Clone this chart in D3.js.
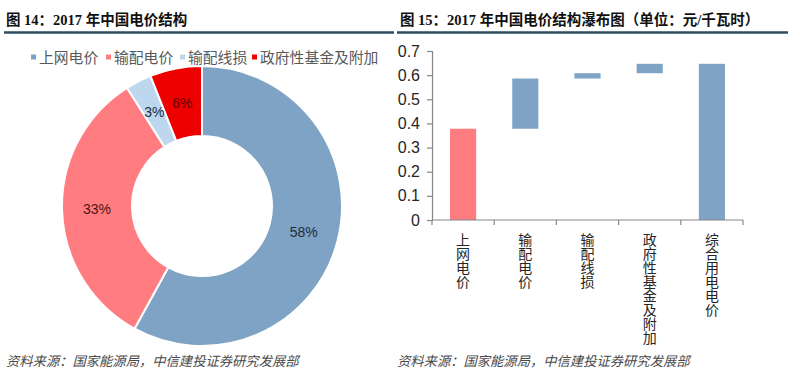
<!DOCTYPE html>
<html><head><meta charset="utf-8">
<script src="https://cdn.jsdelivr.net/npm/d3@7"></script>
<style>body{margin:0;background:#fff}svg{display:block}</style>
</head><body>
<script>
// ---- data ----
const pieCategories = ["上网电价", "输配电价", "输配线损", "政府性基金及附加"];
const pieValues = [58, 33, 3, 6];
const pieLabels = ["58%", "33%", "3%", "6%"];
const wfCategories = ["上网电价", "输配电价", "输配线损", "政府性基金及附加", "综合用电电价"];
const wfValues = [0.378, 0.208, 0.022, 0.039, 0.647];
const wfIsTotal = [false, false, false, false, true];
const yTicks = [0, 0.1, 0.2, 0.3, 0.4, 0.5, 0.6, 0.7];
const leftTitle = "图 14：2017 年中国电价结构";
const rightTitle = "图 15：2017 年中国电价结构瀑布图（单位：元/千瓦时）";
const sourceText = "资料来源：国家能源局，中信建投证券研究发展部";

// ---- styles ----
const pieColors = ["#7fa3c4", "#ff7c80", "#bdd7ee", "#ee0000"];
const pieLabelColors = ["#1b2b3d", "#4a1414", "#1b2b3d", "#6a0000"];
const barColors = ["#ff7c80", "#7fa3c4", "#7fa3c4", "#7fa3c4", "#7fa3c4"];
const cjk = "'Noto Sans CJK SC', 'Liberation Sans', sans-serif";

const W = 800, H = 378;
const svg = d3.select("body").append("svg").attr("width", W).attr("height", H);

// titles
const titleFont = "'Liberation Serif', 'Noto Sans CJK SC', serif";
[[6, leftTitle], [400, rightTitle]].forEach(([x, t]) => {
  svg.append("text").attr("x", x).attr("y", 25).text(t)
    .attr("font-family", titleFont).attr("font-weight", "bold")
    .attr("font-size", 14.5).attr("fill", "#111");
});
svg.append("line").attr("x1", 4).attr("x2", 394).attr("y1", 32.5).attr("y2", 32.5)
  .attr("stroke", "#2d4b61").attr("stroke-width", 2.5);
svg.append("line").attr("x1", 397).attr("x2", 788).attr("y1", 32.5).attr("y2", 32.5)
  .attr("stroke", "#2d4b61").attr("stroke-width", 2.5);

// footers
[[6], [397]].forEach(([x]) => {
  svg.append("text").attr("x", x).attr("y", 366).text(sourceText)
    .attr("font-family", cjk).attr("font-style", "italic")
    .attr("font-size", 13.3).attr("fill", "#4a4a4a");
});

// ---- legend ----
const legendX = [31, 106, 180, 252];
const lg = svg.append("g");
pieCategories.forEach((c, i) => {
  lg.append("rect").attr("x", legendX[i]).attr("y", 54.5).attr("width", 5).attr("height", 5)
    .attr("fill", pieColors[i]);
  lg.append("text").attr("x", legendX[i] + 8).attr("y", 62.5).text(c)
    .attr("font-family", cjk).attr("font-size", 14.8).attr("fill", "#595959");
});

// ---- donut ----
const cx = 202, cy = 206, rOut = 140, rIn = 70;
const pie = d3.pie().sort(null).value(d => d)(pieValues);
const arc = d3.arc().innerRadius(rIn).outerRadius(rOut);
const pg = svg.append("g").attr("transform", `translate(${cx},${cy})`);
pg.selectAll("path").data(pie).join("path")
  .attr("d", arc).attr("fill", (d, i) => pieColors[i])
  .attr("stroke", "#fff").attr("stroke-width", 2);
pg.selectAll("text").data(pie).join("text")
  .attr("transform", d => `translate(${arc.centroid(d)})`)
  .attr("text-anchor", "middle").attr("dy", "0.36em")
  .attr("font-family", "'Liberation Sans', Arial, sans-serif").attr("font-size", 14)
  .attr("fill", (d, i) => pieLabelColors[i])
  .text((d, i) => pieLabels[i]);

// ---- waterfall ----
const x0 = 432, x1 = 743, yTop = 51, yBot = 220;
const x = d3.scaleBand().domain(wfCategories).range([x0, x1]).padding(0);
const y = d3.scaleLinear().domain([0, 0.7]).range([yBot, yTop]);

let cum = 0;
const bars = wfCategories.map((c, i) => {
  let lo, hi;
  if (wfIsTotal[i]) { lo = 0; hi = wfValues[i]; }
  else { lo = cum; hi = cum + wfValues[i]; cum = hi; }
  return { c, lo, hi, i };
});

const wg = svg.append("g");
const bw = x.bandwidth() * 0.42;
wg.selectAll("rect").data(bars).join("rect")
  .attr("x", d => x(d.c) + (x.bandwidth() - bw) / 2)
  .attr("width", bw)
  .attr("y", d => y(d.hi))
  .attr("height", d => y(d.lo) - y(d.hi))
  .attr("fill", d => barColors[d.i]);

// y axis
const yAxis = d3.axisLeft(y).tickValues(yTicks).tickSize(5).tickPadding(7)
  .tickFormat(d => d === 0 ? "0" : d3.format(".1f")(d));
const ya = svg.append("g").attr("transform", `translate(${x0},0)`).call(yAxis);
ya.select(".domain").attr("stroke", "#868686").attr("stroke-width", 1.2);
ya.selectAll(".tick line").attr("stroke", "#868686").attr("stroke-width", 1.2);
ya.selectAll(".tick text").attr("font-family", "'Liberation Sans', Arial, sans-serif")
  .attr("font-size", 16).attr("fill", "#262626");

// x axis: line + boundary ticks
const xa = svg.append("g");
xa.append("line").attr("x1", x0).attr("x2", x1).attr("y1", yBot).attr("y2", yBot)
  .attr("stroke", "#868686").attr("stroke-width", 1.2);
const bounds = wfCategories.map(c => x(c)).concat([x.range()[1]]);
xa.selectAll("line.b").data(bounds).join("line").attr("class", "b")
  .attr("x1", d => d).attr("x2", d => d).attr("y1", yBot).attr("y2", yBot + 5)
  .attr("stroke", "#868686").attr("stroke-width", 1.2);

// vertical category labels (one text each, upright vertical writing)
xa.selectAll("text.cat").data(wfCategories).join("text").attr("class", "cat")
  .attr("x", c => x(c) + x.bandwidth() / 2).attr("y", 233)
  .style("writing-mode", "vertical-rl").style("text-orientation", "upright")
  .attr("font-family", cjk).attr("font-size", 14).attr("fill", "#262626")
  .text(c => c);
</script>
</body></html>
